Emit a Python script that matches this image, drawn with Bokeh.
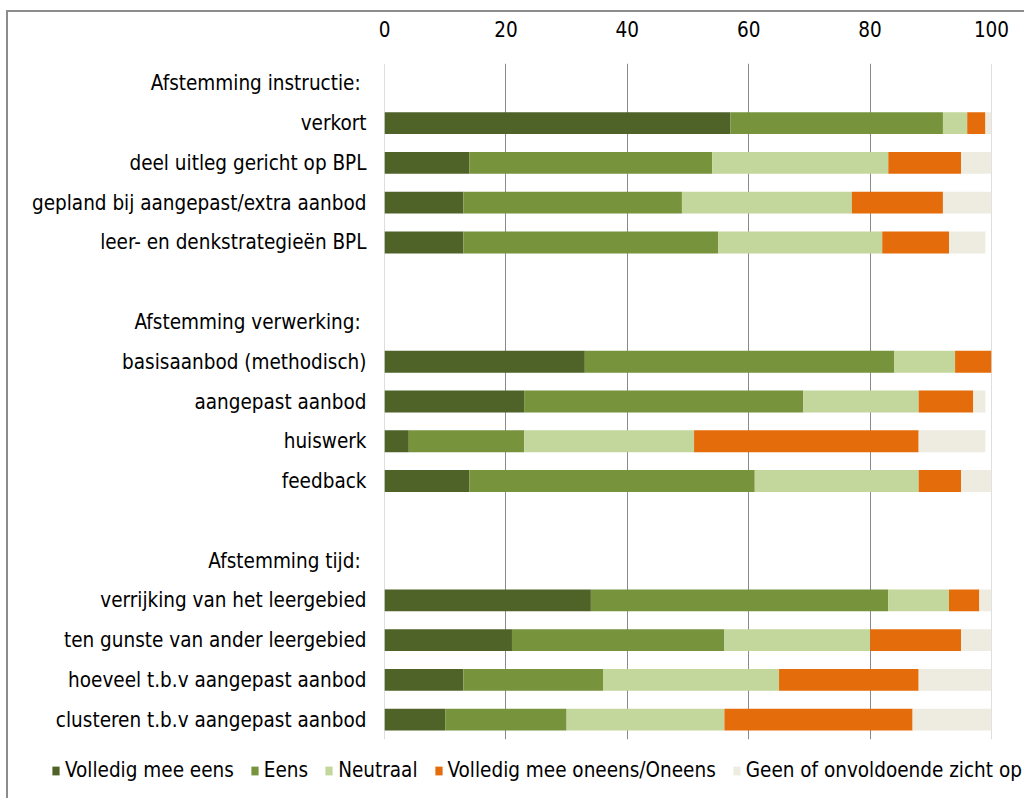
from bokeh.plotting import figure
from bokeh.models import ColumnDataSource, FactorRange, Legend, LegendItem, Span, FixedTicker
from bokeh.layouts import column
from bokeh.embed import file_html
from bokeh.resources import INLINE

categories = [
    "Afstemming instructie: ",
    "verkort",
    "deel uitleg gericht op BPL",
    "gepland bij aangepast/extra aanbod",
    "leer- en denkstrategieën BPL",
    " ",
    "Afstemming verwerking: ",
    "basisaanbod (methodisch)",
    "aangepast aanbod",
    "huiswerk",
    "feedback",
    "  ",
    "Afstemming tijd: ",
    "verrijking van het leergebied",
    "ten gunste van ander leergebied",
    "hoeveel t.b.v aangepast aanbod",
    "clusteren t.b.v aangepast aanbod",
]

volledig_eens = [0, 57, 14, 13, 13, 0, 0, 33, 23, 4, 14, 0, 0, 34, 21, 13, 10]
eens          = [0, 35, 40, 36, 42, 0, 0, 51, 46, 19, 47, 0, 0, 49, 35, 23, 20]
neutraal      = [0, 4, 29, 28, 27, 0, 0, 10, 19, 28, 27, 0, 0, 10, 24, 29, 26]
oneens        = [0, 3, 12, 15, 11, 0, 0, 6, 9, 37, 7, 0, 0, 5, 15, 23, 31]
geen_zicht    = [0, 1, 5, 8, 6, 0, 0, 0, 2, 11, 5, 0, 0, 2, 5, 12, 13]

series_keys = ["v_eens", "eens", "neutraal", "oneens", "geen"]
series_labels = ["Volledig mee eens", "Eens", "Neutraal", "Volledig mee oneens/Oneens", "Geen of onvoldoende zicht op"]
colors = ["#4F6228", "#77933C", "#C3D69B", "#E46C0A", "#EEECE1"]
x_ticks = [0, 20, 40, 60, 80, 100]

FONT = "DejaVu Sans Condensed"
FSIZE = "20.5px"

source = ColumnDataSource(dict(
    cat=categories,
    v_eens=volledig_eens,
    eens=eens,
    neutraal=neutraal,
    oneens=oneens,
    geen=geen_zicht,
))

p = figure(
    width=1016, height=736,
    y_range=FactorRange(factors=list(reversed(categories)), range_padding=0),
    x_range=(0, 100),
    x_axis_location="above",
    output_backend="svg", toolbar_location=None,
    min_border_left=376, min_border_right=33, min_border_top=51, min_border_bottom=9,
)
p.frame_align = False

renderers = p.hbar_stack(series_keys, y="cat", height=0.55, color=colors, source=source, line_color=None)

p.outline_line_color = None
p.background_fill_color = "white"
p.border_fill_color = "white"

p.ygrid.grid_line_color = None
p.xgrid.ticker = FixedTicker(ticks=[20, 40, 60, 80])
p.xgrid.grid_line_color = "#8a8a8a"
p.xgrid.grid_line_width = 1
p.xgrid.level = "underlay"

for xv in (0, 100):
    p.add_layout(Span(location=xv, dimension="height", line_color="#bdbdbd", line_width=1, level="underlay"))

xa = p.xaxis[0]
xa.ticker = FixedTicker(ticks=x_ticks)
xa.axis_line_color = None
xa.major_tick_line_color = None
xa.minor_tick_line_color = None
xa.major_label_text_font = FONT
xa.major_label_text_font_size = FSIZE
xa.major_label_text_color = "#000000"
xa.major_label_standoff = 21

ya = p.yaxis[0]
ya.axis_line_color = None
ya.major_tick_line_color = None
ya.minor_tick_line_color = None
ya.major_label_text_font = FONT
ya.major_label_text_font_size = FSIZE
ya.major_label_text_color = "#000000"
ya.major_label_standoff = 12

# legend in its own strip below the chart; swatches drawn by the legend from
# per-series renderers whose (single, off-screen) bar is never visible
pl = figure(width=1016, height=50, output_backend="svg", toolbar_location=None,
            x_range=(0, 1), y_range=(0, 1), min_border=0)
pl.frame_align = False
pl.axis.visible = False
pl.grid.visible = False
pl.outline_line_color = None
leg_src = ColumnDataSource(dict(y=[-10.0], left=[0.0], right=[0.0]))
leg_renderers = [pl.hbar(y="y", left="left", right="right", height=0.5, color=c,
                         line_color=None, source=leg_src) for c in colors]
items = [LegendItem(label=lab, renderers=[r], index=0) for lab, r in zip(series_labels, leg_renderers)]
legend = Legend(items=items, orientation="horizontal", location=(43, 16),
                label_text_font=FONT, label_text_font_size=FSIZE, label_text_color="#000000",
                glyph_width=9, glyph_height=11, label_standoff=5, spacing=16,
                padding=4, margin=0, border_line_color=None, background_fill_alpha=0)
pl.add_layout(legend, "center")

layout = column(p, pl, spacing=0,
                styles={"border-top": "2px solid #8c8c8c", "border-left": "2px solid #8c8c8c",
                        "margin-left": "6px", "margin-top": "10px"})

open("out.html", "w").write(file_html(layout, INLINE))
